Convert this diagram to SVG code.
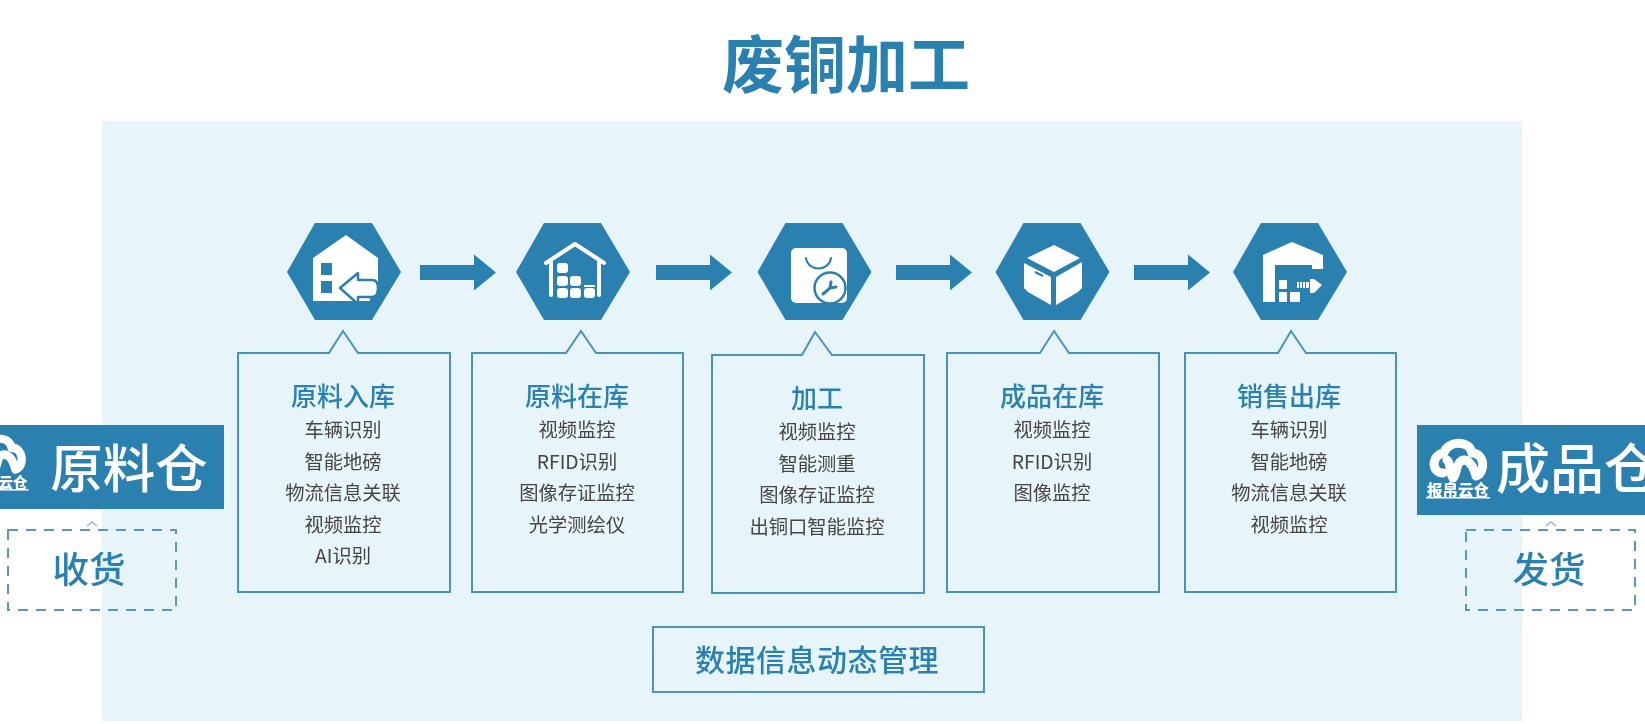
<svg xmlns="http://www.w3.org/2000/svg" width="1645" height="724" viewBox="0 0 1645 724">
<style>
text{font-family:"Noto Sans CJK SC","Noto Sans",sans-serif;text-anchor:middle;dominant-baseline:central}
.title{font-size:62px;font-weight:700;fill:#2a80ae}
.head{font-size:26px;font-weight:500;fill:#2a80ae}
.item{font-size:19.3px;fill:#444}
.call{fill:none;stroke:#4a92b8;stroke-width:2}
.ban{fill:#2a80ae}
.bt{font-size:52.5px;font-weight:500;fill:#fff}
.dash{fill:none;stroke:#5a97bd;stroke-width:2;stroke-dasharray:10 8}
.recv{font-size:36.5px;font-weight:500;fill:#2a80ae}
.chev{fill:none;stroke:#8db9d3;stroke-width:1.5}
.w{fill:#fff}
.d{fill:#2a80ae}
.logo{fill:none;stroke:#fff;stroke-width:9;stroke-linecap:round;stroke-linejoin:round}
.lt{font-size:15.5px;font-weight:900;fill:#fff}
</style>
<defs>
<polygon id="hex" class="d" points="-57,0 -29,-49 28,-49 57,0 28,48 -29,48"/>
<polygon id="arr" class="d" points="0,-7.5 54,-7.5 54,-18 76,0 54,18 54,7.5 0,7.5"/>
<filter id="soft" x="0" y="0" width="100%" height="100%" filterUnits="userSpaceOnUse"><feGaussianBlur stdDeviation="0.45"/></filter>
<g id="logoG">
<path class="logo" d="M1443 473C1431 473 1431 455 1444 453C1447 441 1469 439 1472 453C1485 453 1486 473 1476 476C1473 464 1467 458 1461 461C1456 464 1457 474 1453 478C1449 472 1451 463 1447 460"/>
<text class="lt" x="1458" y="489">报帛云仓</text>
<rect class="w" x="1426" y="497" width="64" height="1.5"/>
</g>
</defs>
<g filter="url(#soft)">
<rect id="panel" x="102" y="121" width="1420" height="600" fill="#e7f5fb"/>
<text id="title" class="title" x="846" y="61">废铜加工</text>

<g id="connectors">
<use href="#arr" x="420" y="272.5"/>
<use href="#arr" x="656" y="272.5"/>
<use href="#arr" x="896" y="272.5"/>
<use href="#arr" x="1134" y="272.5"/>
</g>

<g id="node-1">
<use href="#hex" x="344" y="272"/>
<path class="w" d="M313 258L346 235L378 258V283H370V301H313Z"/>
<path class="d" d="M321 263h11v12h-11zM321 281h11v12h-11z"/>
<path class="w" stroke="#2a80ae" stroke-width="2.5" stroke-linejoin="round" d="M340 288L358 273V280H372Q378 280 378 288Q378 297 372 297H358V304Z"/>
<path class="call" d="M238 353H329L343 331L358 353H450V592H238Z"/>
<text class="head" x="343" y="394">原料入库</text>
<text class="item" x="343" y="429">车辆识别</text>
<text class="item" x="343" y="461">智能地磅</text>
<text class="item" x="343" y="492">物流信息关联</text>
<text class="item" x="343" y="524">视频监控</text>
<text class="item" x="343" y="555">AI识别</text>
</g>

<g id="node-2">
<use href="#hex" x="573" y="272"/>
<path fill="none" stroke="#fff" stroke-width="4" stroke-linejoin="round" stroke-linecap="round" d="M546 263L575 244L604 263M551 262V295M599 262V295"/>
<g class="w">
<rect x="557" y="263" width="11" height="10" rx="3"/>
<rect x="557" y="276" width="11" height="10" rx="3"/>
<rect x="570" y="276" width="11" height="10" rx="3"/>
<rect x="557" y="288" width="11" height="10" rx="3"/>
<rect x="570" y="288" width="11" height="10" rx="3"/>
<rect x="584" y="288" width="11" height="10" rx="3"/>
<rect x="584" y="285" width="11" height="2"/>
</g>
<path class="call" d="M472 353H566L581 331L596 353H683V592H472Z"/>
<text class="head" x="577" y="394">原料在库</text>
<text class="item" x="577" y="429">视频监控</text>
<text class="item" x="577" y="461">RFID识别</text>
<text class="item" x="577" y="492">图像存证监控</text>
<text class="item" x="577" y="524">光学测绘仪</text>
</g>

<g id="node-3">
<use href="#hex" x="814.5" y="272"/>
<rect class="w" x="791" y="248" width="56" height="55" rx="5"/>
<path fill="none" stroke="#2a80ae" stroke-width="2" stroke-linecap="round" d="M806 258C808 272 829 272 831 258"/>
<circle cx="830" cy="288" r="15.5" fill="#fff" stroke="#2a80ae" stroke-width="2.5"/>
<path fill="none" stroke="#2a80ae" stroke-width="3" stroke-linecap="round" d="M823 294L830 288M830 288L831 282M830 288L836 287"/>
<path class="call" d="M712 355H802L815 332L832 355H924V593H712Z"/>
<text class="head" x="817" y="396">加工</text>
<text class="item" x="817" y="431">视频监控</text>
<text class="item" x="817" y="463">智能测重</text>
<text class="item" x="817" y="494">图像存证监控</text>
<text class="item" x="817" y="526">出铜口智能监控</text>
</g>

<g id="node-4">
<use href="#hex" x="1052.5" y="272"/>
<g class="w">
<polygon points="1054,245 1080,258 1054,272 1027,258"/>
<polygon points="1024,263 1051,277 1051,305 1028,292 1024,288"/>
<polygon points="1056,277 1082,262 1082,288 1078,292 1056,305"/>
</g>
<path stroke="#2a80ae" stroke-width="2.5" d="M1035 272L1043 276"/>
<path class="call" d="M947 353H1040L1054 331L1069 353H1159V592H947Z"/>
<text class="head" x="1052" y="394">成品在库</text>
<text class="item" x="1052" y="429">视频监控</text>
<text class="item" x="1052" y="461">RFID识别</text>
<text class="item" x="1052" y="492">图像监控</text>
</g>

<g id="node-5">
<use href="#hex" x="1290" y="272"/>
<path class="w" d="M1263 255L1292 242L1323 255V269H1312V265H1275V302H1263Z"/>
<g class="w">
<rect x="1279" y="280" width="8" height="9" rx="1"/>
<rect x="1279" y="292" width="8" height="10" rx="1"/>
<rect x="1290" y="292" width="10" height="10" rx="1"/>
<path d="M1297 282h2v6h-2zM1300 282h2v6h-2zM1303 282h2v6h-2zM1306 282h3v6h-3zM1310 279L1314 279L1322 285L1314 293L1310 293Z"/>
</g>
<path class="call" d="M1185 353H1278L1291 331L1306 353H1396V592H1185Z"/>
<text class="head" x="1289" y="394">销售出库</text>
<text class="item" x="1289" y="429">车辆识别</text>
<text class="item" x="1289" y="461">智能地磅</text>
<text class="item" x="1289" y="492">物流信息关联</text>
<text class="item" x="1289" y="524">视频监控</text>
</g>

<g id="data-manage">
<rect class="call" x="653" y="627" width="331" height="65"/>
<text x="817" y="658" style="font-size:30px;font-weight:500;fill:#2a80ae;letter-spacing:0.5px">数据信息动态管理</text>
</g>

<g id="raw-store">
<rect class="ban" x="-5" y="425" width="229" height="84"/>
<use href="#logoG" transform="translate(-1372,22) scale(.94)"/>
<text class="bt" x="129" y="465">原料仓</text>
</g>
<g id="receive">
<rect class="dash" x="8" y="530" width="168" height="80"/>
<path class="chev" d="M87 526L92 522L97 526"/>
<text class="recv" x="89" y="567">收货</text>
</g>

<g id="product-store">
<rect class="ban" x="1417" y="425" width="233" height="90"/>
<use href="#logoG"/>
<text class="bt" x="1577" y="465" style="font-size:54px">成品仓</text>
</g>
<g id="ship">
<rect class="dash" x="1466" y="530" width="169" height="80"/>
<path class="chev" d="M1546 526L1551 522L1556 526"/>
<text class="recv" x="1549" y="567">发货</text>
</g>
</g>
</svg>
